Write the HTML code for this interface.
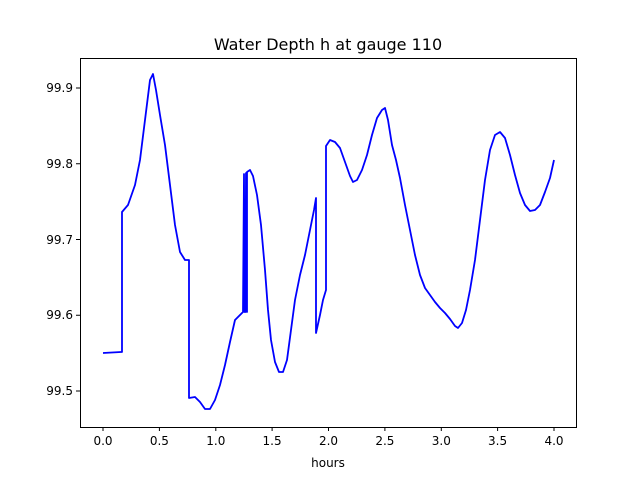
<!DOCTYPE html>
<html><head><style>body{margin:0;background:#fff}</style></head><body>
<svg width="640" height="480" xmlns="http://www.w3.org/2000/svg" font-family="DejaVu Sans, sans-serif">
<rect width="640" height="480" fill="#fff"/>
<text x="328" y="50" font-size="16" text-anchor="middle">Water Depth h at gauge 110</text>
<polyline fill="none" stroke="#0000ff" stroke-width="1.8" stroke-linejoin="round" points="
103,353 121,352 122,352 122,212 128,205 135,185 140,160 145,120 150,80 153,74 156,90 160,115 165,145 170,185 175,225 180,252 185,260 189,260 189,398 195,397 200,402 205,409 210,409 215,400 220,385 225,365 230,342 235,320 240,315 243,312 244,174 244.5,312 245.5,312 246,173 247,312 247,172 250,170 253,176 257,195 261,225 265,270 268,310 271,340 275,362 279,372 283,372 287,360 291,330 295,300 300,275 305,255 310,230 314,210 316,198 316,333 320,315 323,300 326,290 326,146 330,140 335,142 340,148 345,162 350,176 353,182 357,180 362,170 367,155 372,135 377,118 382,110 385,108 388,120 392,145 396,160 400,178 405,205 410,230 415,255 420,275 425,288 430,295 435,302 440,308 445,313 450,319 455,326 458,328 462,323 466,310 470,290 475,260 480,220 485,180 490,150 495,135 500,132 505,138 510,155 515,175 520,193 525,205 530,211 535,210 540,205 545,192 550,178 554,160"/>
<rect x="80.5" y="58.5" width="496" height="369" fill="none" stroke="#000" stroke-width="1"/>
<g stroke="#000" stroke-width="1">
<line x1="103" y1="427" x2="103" y2="431"/><line x1="159.4" y1="427" x2="159.4" y2="431"/><line x1="215.8" y1="427" x2="215.8" y2="431"/><line x1="272.1" y1="427" x2="272.1" y2="431"/><line x1="328.5" y1="427" x2="328.5" y2="431"/><line x1="384.9" y1="427" x2="384.9" y2="431"/><line x1="441.3" y1="427" x2="441.3" y2="431"/><line x1="497.6" y1="427" x2="497.6" y2="431"/><line x1="554" y1="427" x2="554" y2="431"/>
<line x1="76" y1="88" x2="80" y2="88"/><line x1="76" y1="163.75" x2="80" y2="163.75"/><line x1="76" y1="239.5" x2="80" y2="239.5"/><line x1="76" y1="315.25" x2="80" y2="315.25"/><line x1="76" y1="391" x2="80" y2="391"/>
</g>
<g font-size="12" text-anchor="middle">
<text x="103" y="445">0.0</text><text x="159.4" y="445">0.5</text><text x="215.8" y="445">1.0</text><text x="272.1" y="445">1.5</text><text x="328.5" y="445">2.0</text><text x="384.9" y="445">2.5</text><text x="441.3" y="445">3.0</text><text x="497.6" y="445">3.5</text><text x="554" y="445">4.0</text>
<text x="328" y="467">hours</text>
</g>
<g font-size="12" text-anchor="end">
<text x="73" y="92">99.9</text><text x="73" y="168">99.8</text><text x="73" y="244">99.7</text><text x="73" y="319">99.6</text><text x="73" y="395">99.5</text>
</g>
</svg>
</body></html>
